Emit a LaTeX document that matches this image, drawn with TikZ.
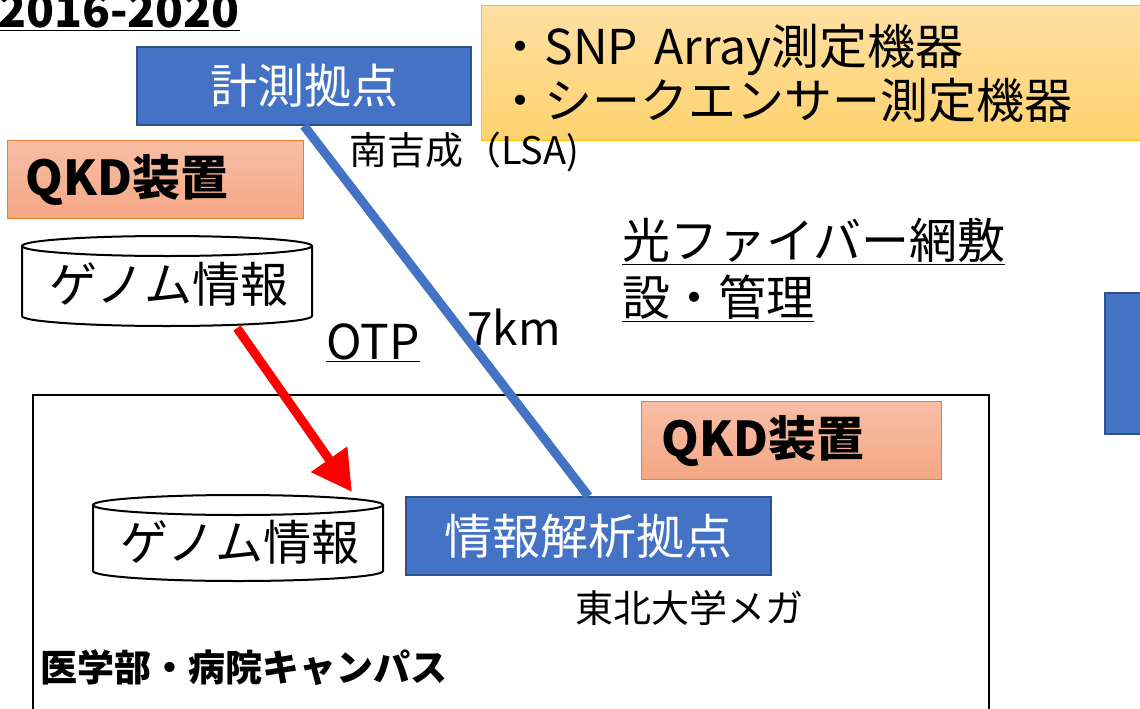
\documentclass[tikz,border=0pt]{standalone}
\usepackage{fontspec}
\setmainfont{Noto Sans CJK JP}
\usetikzlibrary{arrows.meta,calc}
\definecolor{boxBlue}{HTML}{4472C4}
\definecolor{boxLine}{HTML}{2F528F}
\definecolor{qkdTop}{HTML}{F7BEA6}
\definecolor{qkdBot}{HTML}{F4A784}
\definecolor{qkdLine}{HTML}{ED7D31}
\definecolor{yelTop}{HTML}{FFE0A3}
\definecolor{yelBot}{HTML}{FFD26F}
\definecolor{yelLine}{HTML}{FFC000}
\newcommand{\fsz}[2]{\fontsize{#1}{#2}\selectfont}
\newcommand{\ulin}[1]{$\underline{\hbox{#1}}$}
\tikzset{
  bluebox/.style={draw=boxLine, fill=boxBlue, line width=1.5pt, text=white, inner sep=0pt},
  qkdbox/.style={draw=qkdLine, line width=1.2pt, top color=qkdTop, bottom color=qkdBot, inner sep=0pt, font=\fsz{48}{56}\bfseries, anchor=north west, minimum width=289, minimum height=78, text width=260, align=left},
  yelbox/.style={draw=yelLine, line width=1.2pt, top color=yelTop, bottom color=yelBot},
  cylbody/.style={minimum width=290, minimum height=72, inner sep=0pt, font=\fsz{48}{52}},
  cylline/.style={draw=black, line width=2pt, fill=white},
  plain/.style={inner sep=0pt, text=black},
  fiber/.style={draw=boxBlue, line width=9pt},
  otp/.style={draw=red, line width=9pt, -{Triangle[length=40pt,width=42pt]}},
  campus/.style={draw=black, line width=2pt}
}
\begin{document}
\begin{tikzpicture}[x=1pt,y=1pt]
\useasboundingbox (0,0) rectangle (1140,-709);
\clip (0,0) rectangle (1140,-709);
% campus frame
\draw[campus] (33,-395) rectangle (989,-730);
% right partial blue box
\node[bluebox, anchor=north west, minimum width=60, minimum height=141] (rightbox) at (1104,-292) {};
% year
\node[plain, anchor=base west, font=\fsz{46}{52}\bfseries] (year) at (-2,-28) {\ulin{2016-2020}};
% yellow equipment box
\node[yelbox, anchor=north west, minimum width=680, minimum height=135, inner xsep=5pt, inner ysep=0pt, text width=650, align=left, font=\fsz{48}{54}] (equip) at (481,-5) {・SNP Array測定機器\\・シークエンサー測定機器};
% measurement site
\node[bluebox, minimum width=334, minimum height=78, font=\fsz{47}{52}] (keisoku) at (304,-86) {計測拠点};
\node[plain, anchor=west, font=\fsz{38}{44}] (lsa) at (349,-152) {南吉成（LSA)};
% QKD boxes
\node[qkdbox, inner xsep=18pt] (qkd1) at (7,-140) {QKD装置};
\node[qkdbox, inner xsep=20pt] (qkd2) at (641,-401) {QKD装置};
% fiber text
\node[plain, anchor=north west, align=left, font=\fsz{48}{57}] (fibertxt) at (622,-218) {\ulin{光ファイバー網敷}\\\ulin{設・管理}};
% OTP, 7km
\node[plain, font=\fsz{48}{52}] (otplbl) at (373,-343) {\ulin{OTP}};
\node[plain, anchor=west, font=\fsz{46}{52}] (km) at (467,-327) {7km};
% genome cylinder 1
\draw[cylline] (22,-246) -- (22,-316) arc[start angle=180, end angle=360, x radius=145, y radius=10] -- (312,-246);
\draw[cylline] (167,-246) ellipse[x radius=145, y radius=10];
\node[cylbody] (geno1) at (169,-284) {ゲノム情報};
% genome cylinder 2
\draw[cylline] (93,-505) -- (93,-571) arc[start angle=180, end angle=360, x radius=145, y radius=10] -- (383,-505);
\draw[cylline] (238,-505) ellipse[x radius=145, y radius=10];
\node[cylbody] (geno2) at (240,-542) {ゲノム情報};
% analysis site
\node[bluebox, minimum width=365, minimum height=78, font=\fsz{48}{52}] (kaiseki) at (588.5,-536) {情報解析拠点};
\node[plain, anchor=west, font=\fsz{38}{44}] (mega) at (575,-608) {東北大学メガ};
\node[plain, anchor=west, font=\fsz{37}{44}\bfseries] (campuslbl) at (40,-668) {医学部・病院キャンパス};
% connectors
\draw[fiber] (keisoku.south) -- (kaiseki.north);
\coordinate (otpstart) at (237,-328);
\coordinate (otpend) at (352,-492);
\draw[otp] (otpstart) -- (otpend);
\end{tikzpicture}
\end{document}
